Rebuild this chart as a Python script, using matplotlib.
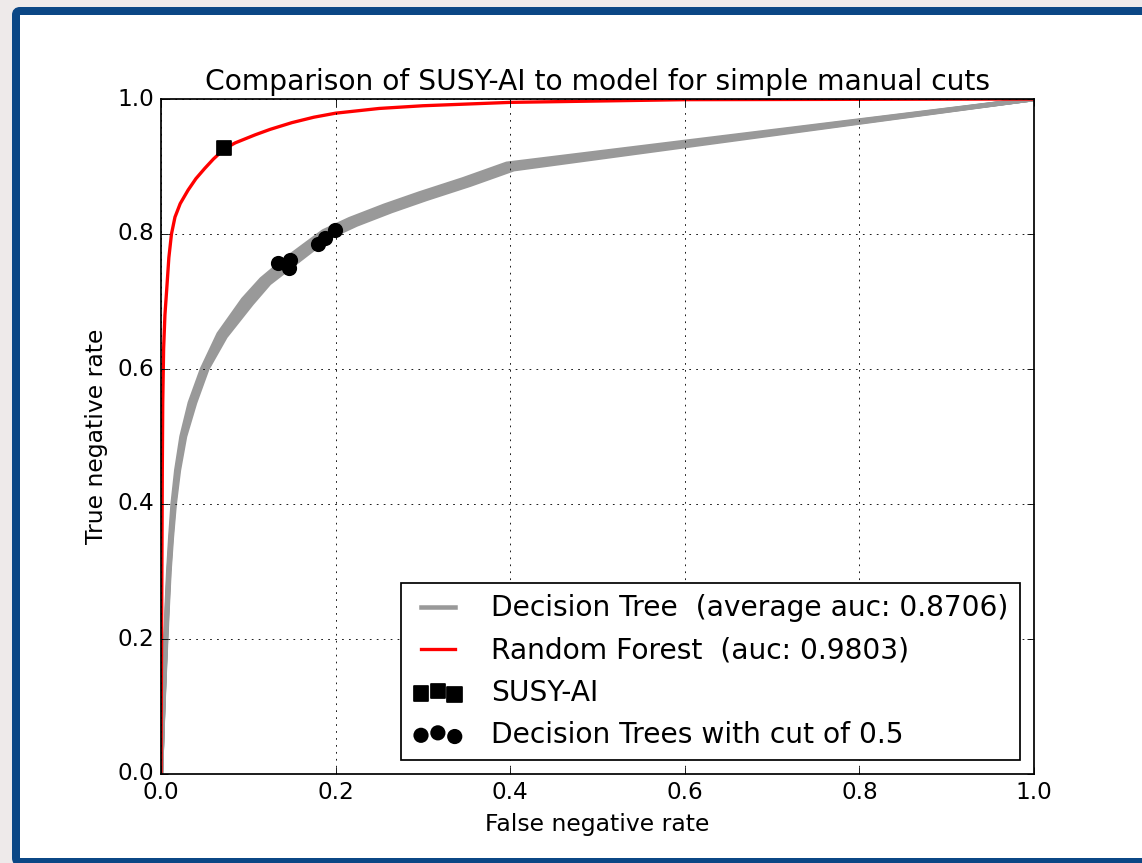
import matplotlib
matplotlib.use("Agg")
import matplotlib.pyplot as plt
from matplotlib.patches import FancyBboxPatch
from matplotlib.transforms import IdentityTransform

plt.style.use('classic')

# ROC curves of the single decision trees (false negative rate, true negative rate)
tree_fnr = [
    [0, 0.0012, 0.0025, 0.0040, 0.0055, 0.0072, 0.0090, 0.0115, 0.0145, 0.0190, 0.0255, 0.036, 0.050,
     0.070, 0.099, 0.120, 0.145, 0.170, 0.190, 0.220, 0.260, 0.300, 0.350, 0.400, 1.0],
    [0, 0.0013, 0.0027, 0.0043, 0.0060, 0.0078, 0.0097, 0.0124, 0.0157, 0.0205, 0.0275, 0.039, 0.053,
     0.074, 0.104, 0.124, 0.149, 0.174, 0.194, 0.224, 0.264, 0.304, 0.354, 0.404, 1.0],
    [0, 0.0011, 0.0023, 0.0037, 0.0051, 0.0066, 0.0083, 0.0106, 0.0133, 0.0175, 0.0235, 0.033, 0.047,
     0.066, 0.094, 0.115, 0.140, 0.165, 0.186, 0.216, 0.256, 0.296, 0.346, 0.396, 1.0],
    [0, 0.0012, 0.0026, 0.0041, 0.0057, 0.0074, 0.0093, 0.0118, 0.0150, 0.0196, 0.0263, 0.037, 0.052,
     0.072, 0.102, 0.123, 0.148, 0.172, 0.193, 0.222, 0.262, 0.302, 0.352, 0.402, 1.0],
    [0, 0.0012, 0.0024, 0.0039, 0.0054, 0.0070, 0.0088, 0.0113, 0.0142, 0.0186, 0.0250, 0.035, 0.049,
     0.068, 0.097, 0.118, 0.143, 0.168, 0.188, 0.218, 0.258, 0.298, 0.348, 0.398, 1.0],
]
tree_tnr = [
    [0, 0.05, 0.10, 0.15, 0.20, 0.25, 0.30, 0.35, 0.40, 0.45, 0.50, 0.55, 0.60,
     0.650, 0.700, 0.730, 0.757, 0.781, 0.800, 0.818, 0.838, 0.856, 0.877, 0.900, 1.0],
    [0, 0.05, 0.10, 0.15, 0.20, 0.25, 0.30, 0.35, 0.40, 0.45, 0.50, 0.55, 0.60,
     0.648, 0.697, 0.727, 0.752, 0.777, 0.796, 0.814, 0.834, 0.852, 0.873, 0.896, 1.0],
    [0, 0.05, 0.10, 0.15, 0.20, 0.25, 0.30, 0.35, 0.40, 0.45, 0.50, 0.55, 0.60,
     0.652, 0.703, 0.733, 0.760, 0.784, 0.804, 0.822, 0.842, 0.860, 0.881, 0.904, 1.0],
    [0, 0.05, 0.10, 0.15, 0.20, 0.25, 0.30, 0.35, 0.40, 0.45, 0.50, 0.55, 0.60,
     0.650, 0.700, 0.729, 0.755, 0.779, 0.798, 0.816, 0.836, 0.854, 0.875, 0.898, 1.0],
    [0, 0.05, 0.10, 0.15, 0.20, 0.25, 0.30, 0.35, 0.40, 0.45, 0.50, 0.55, 0.60,
     0.651, 0.701, 0.731, 0.758, 0.782, 0.802, 0.820, 0.840, 0.858, 0.879, 0.902, 1.0],
]

# random forest ROC
rf_fnr = [0, 0.001, 0.0015, 0.002, 0.003, 0.0045, 0.0065, 0.009, 0.012, 0.016, 0.022,
          0.031, 0.040, 0.050, 0.060, 0.0725, 0.085, 0.108, 0.125, 0.150, 0.175, 0.200,
          0.250, 0.300, 0.400, 0.600, 1.0]
rf_tnr = [0, 0.30, 0.45, 0.55, 0.63, 0.68, 0.717, 0.765, 0.800, 0.825, 0.845,
          0.865, 0.882, 0.897, 0.911, 0.926, 0.935, 0.947, 0.955, 0.965, 0.973, 0.979,
          0.986, 0.990, 0.995, 0.999, 1.0]

# SUSY-AI working point
susy_fnr = [0.0725]
susy_tnr = [0.927]

# decision trees with cut 0.5
cut_fnr = [0.134, 0.147, 0.148, 0.180, 0.188, 0.199]
cut_tnr = [0.757, 0.750, 0.761, 0.785, 0.794, 0.806]

W, H, DPI = 1142, 863, 125
fig = plt.figure(figsize=(W / DPI, H / DPI), dpi=DPI, facecolor='#eeeaea')

# blue frame of the screenshot
frame = FancyBboxPatch((16, 1), 1150, 851, boxstyle="round,pad=0,rounding_size=4",
                       transform=IdentityTransform(), facecolor='white',
                       edgecolor='#0b4785', linewidth=8 * 72 / DPI, zorder=-10)
fig.patches.append(frame)

ax = fig.add_axes([161 / W, 1 - 774 / H, 873 / W, 675 / H])
ax.set_zorder(5)

for i in range(len(tree_fnr)):
    ax.plot(tree_fnr[i], tree_tnr[i], color='#999999', lw=2.6,
            label='Decision Tree  (average auc: 0.8706)' if i == 0 else None)
ax.plot(rf_fnr, rf_tnr, color='red', lw=1.9, label='Random Forest  (auc: 0.9803)')
ax.scatter(susy_fnr, susy_tnr, marker='s', s=70, color='black', zorder=5, label='SUSY-AI')
ax.scatter(cut_fnr, cut_tnr, marker='o', s=60, color='black', zorder=5,
           label='Decision Trees with cut of 0.5')

ax.set_xlim(0, 1)
ax.set_ylim(0, 1)
ax.grid(True)
ax.tick_params(labelsize=13.3)
ax.set_title('Comparison of SUSY-AI to model for simple manual cuts', fontsize=16.2)
ax.set_xlabel('False negative rate', fontsize=13.5)
ax.set_ylabel('True negative rate', fontsize=13.5)
ax.legend(loc='lower right', fontsize=16.2, handlelength=1.8, handletextpad=1.0)

fig.savefig('out.png', dpi=DPI, facecolor=fig.get_facecolor())
